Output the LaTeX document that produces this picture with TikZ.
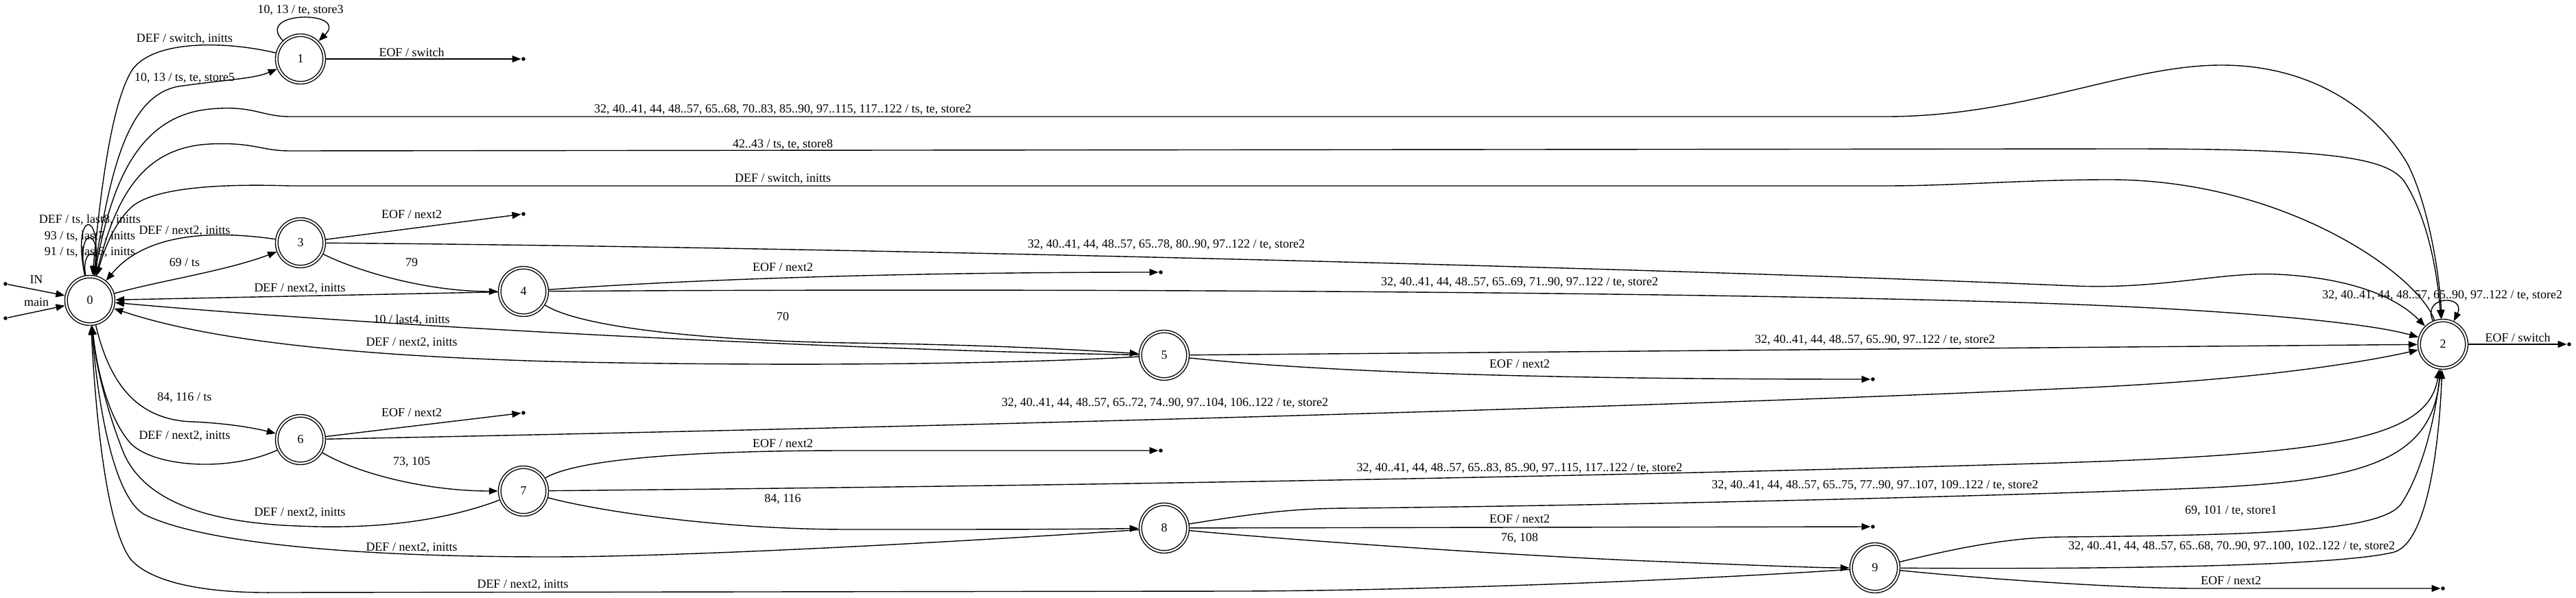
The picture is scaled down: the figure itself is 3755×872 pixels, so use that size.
\documentclass[tikz,border=0pt]{standalone}
\usepackage{fontspec}
\setmainfont{Liberation Serif}
\usetikzlibrary{arrows.meta}

\begin{document}
\begin{tikzpicture}[x=0.5pt,y=-0.5pt,line width=0.7pt,
    >={Triangle[length=6.5pt,width=5pt]},
    every node/.style={font=\fontsize{9}{10}\selectfont},
    state/.style={circle,draw,double,double distance=1.15pt,minimum size=34.65pt,inner sep=0pt,outer sep=1.3pt},
    dot/.style={circle,fill,inner sep=0pt,minimum size=2.8pt},
    lbl/.style={inner sep=0pt}]
  \useasboundingbox (0,0) rectangle (3755,872);
  \draw
    (131,438) node[state] (0){0}
    (438,86) node[state] (1){1}
    (3561,502) node[state] (2){2}
    (438,354) node[state] (3){3}
    (763,425) node[state] (4){4}
    (1697,518) node[state] (5){5}
    (438,641) node[state] (6){6}
    (763,716) node[state] (7){7}
    (1697,770) node[state] (8){8}
    (2733,828) node[state] (9){9};
  \draw
    (8,414) node[dot] (i0){}
    (8,464) node[dot] (i1){}
    (763,86) node[dot] (e1){}
    (3745,502) node[dot] (e2){}
    (763,312) node[dot] (e3){}
    (1692,397) node[dot] (e4){}
    (2730,553) node[dot] (e5){}
    (763,602) node[dot] (e6){}
    (1692,657) node[dot] (e7){}
    (2730,768) node[dot] (e8){}
    (3561,858) node[dot] (e9){};
  \draw
    (53,408) node[lbl] (lin){IN}
    (53,441) node[lbl] (lmain){main}
    (131,321) node[lbl] (l00a){DEF / ts, last8, initts}
    (131,345) node[lbl] (l00b){93 / ts, last7, initts}
    (131,368) node[lbl] (l00c){91 / ts, last6, initts}
    (438,15) node[lbl] (l11){10, 13 / te, store3}
    (269,57) node[lbl] (l10){DEF / switch, initts}
    (269,114) node[lbl] (l01){10, 13 / ts, te, store5}
    (600,76) node[lbl] (l1e){EOF / switch}
    (1141,160) node[lbl] (l02a){32, 40..41, 44, 48..57, 65..68, 70..83, 85..90, 97..115, 117..122 / ts, te, store2}
    (1141,211) node[lbl] (l02b){42..43 / ts, te, store8}
    (1141,261) node[lbl] (l20){DEF / switch, initts}
    (269,337) node[lbl] (l30){DEF / next2, initts}
    (269,383) node[lbl] (l03){69 / ts}
    (600,313) node[lbl] (l3e){EOF / next2}
    (600,383) node[lbl] (l34){79}
    (1700,357) node[lbl] (l32){32, 40..41, 44, 48..57, 65..78, 80..90, 97..122 / te, store2}
    (437,421) node[lbl] (l40){DEF / next2, initts}
    (1141,390) node[lbl] (l4e){EOF / next2}
    (2215,412) node[lbl] (l42){32, 40..41, 44, 48..57, 65..69, 71..90, 97..122 / te, store2}
    (1141,462) node[lbl] (l45){70}
    (600,467) node[lbl] (l50a){10 / last4, initts}
    (600,500) node[lbl] (l50b){DEF / next2, initts}
    (2733,496) node[lbl] (l52){32, 40..41, 44, 48..57, 65..90, 97..122 / te, store2}
    (2215,531) node[lbl] (l5e){EOF / next2}
    (3560,431) node[lbl] (l22){32, 40..41, 44, 48..57, 65..90, 97..122 / te, store2}
    (3670,492) node[lbl] (l2e){EOF / switch}
    (269,580) node[lbl] (l06){84, 116 / ts}
    (269,636) node[lbl] (l60){DEF / next2, initts}
    (600,602) node[lbl] (l6e){EOF / next2}
    (1698,588) node[lbl] (l62){32, 40..41, 44, 48..57, 65..72, 74..90, 97..104, 106..122 / te, store2}
    (600,674) node[lbl] (l67){73, 105}
    (437,748) node[lbl] (l70){DEF / next2, initts}
    (1141,647) node[lbl] (l7e){EOF / next2}
    (2215,683) node[lbl] (l72){32, 40..41, 44, 48..57, 65..83, 85..90, 97..115, 117..122 / te, store2}
    (1141,728) node[lbl] (l78){84, 116}
    (600,799) node[lbl] (l80){DEF / next2, initts}
    (2733,708) node[lbl] (l82){32, 40..41, 44, 48..57, 65..75, 77..90, 97..107, 109..122 / te, store2}
    (2215,757) node[lbl] (l8e){EOF / next2}
    (2215,785) node[lbl] (l89){76, 108}
    (762,853) node[lbl] (l90){DEF / next2, initts}
    (3252,745) node[lbl] (l92a){69, 101 / te, store1}
    (3253,797) node[lbl] (l92b){32, 40..41, 44, 48..57, 65..68, 70..90, 97..100, 102..122 / te, store2}
    (3252,847) node[lbl] (l9e){EOF / next2};
  \begin{scope}[->]
    \draw (i0) to (0);
    \draw (i1) to (0);
    \draw (0) .. controls (104,305) and (150,305) .. (0);
    \draw (0) .. controls (110,330) and (148,330) .. (0);
    \draw (0) .. controls (118,362) and (146,362) .. (0);
    \draw (0) .. controls (160,250) and (185,140) .. (260,126) .. controls (330,116) and (370,115) .. (1);
    \draw (1) .. controls (340,62) and (230,55) .. (194,100) .. controls (160,150) and (145,300) .. (0);
    \draw (1) .. controls (370,15) and (510,15) .. (1);
    \draw (1) to (e1);
    \draw (0) .. controls (158,290) and (190,170) .. (306,159) .. controls (370,153) and (380,170) .. (423,170) -- (2749,170) .. controls (2950,170) and (3100,95) .. (3238,95) .. controls (3380,95) and (3470,170) .. (3510,240) .. controls (3540,300) and (3556,400) .. (2);
    \draw (0) .. controls (165,300) and (200,215) .. (306,210) .. controls (370,207) and (380,220) .. (423,220) -- (3100,217) .. controls (3400,217) and (3480,230) .. (3505,265) .. controls (3540,320) and (3553,400) .. (2);
    \draw (2) .. controls (3525,400) and (3330,262) .. (3075,262) .. controls (2950,262) and (2850,271) .. (2749,271) -- (423,271) .. controls (330,268) and (230,272) .. (194,300) .. controls (165,325) and (150,370) .. (0);
    \draw (0) .. controls (230,410) and (330,395) .. (3);
    \draw (3) .. controls (340,340) and (220,330) .. (0);
    \draw (3) to (e3);
    \draw (3) .. controls (1200,360) and (2400,390) .. (3025,417) .. controls (3150,422) and (3240,396) .. (3320,400) .. controls (3420,405) and (3490,430) .. (2);
    \draw (3) .. controls (520,395) and (620,425) .. (4);
    \draw (4) to (0);
    \draw (4) .. controls (1000,408) and (1300,397) .. (e4);
    \draw (4) .. controls (1500,420) and (2500,425) .. (3000,443) .. controls (3250,452) and (3450,470) .. (2);
    \draw (4) .. controls (850,480) and (1050,497) .. (1236,500) .. controls (1450,503) and (1570,510) .. (5);
    \draw (5) .. controls (1300,512) and (600,480) .. (0);
    \draw (5) .. controls (1400,535) and (1000,532) .. (800,527) .. controls (500,518) and (300,495) .. (0);
    \draw (5) to (2);
    \draw (5) .. controls (1950,545) and (2300,553) .. (e5);
    \draw (2) .. controls (3530,430) and (3595,430) .. (2);
    \draw (2) to (e2);
    \draw (0) .. controls (160,560) and (200,612) .. (280,615) .. controls (330,617) and (370,624) .. (6);
    \draw (6) .. controls (330,690) and (220,680) .. (189,645) .. controls (155,605) and (140,530) .. (0);
    \draw (6) to (e6);
    \draw (6) .. controls (1500,620) and (2500,590) .. (3000,567) .. controls (3300,555) and (3460,525) .. (2);
    \draw (6) .. controls (520,690) and (620,716) .. (7);
    \draw (7) .. controls (620,770) and (500,770) .. (434,767) .. controls (300,762) and (210,730) .. (180,660) .. controls (160,610) and (140,540) .. (0);
    \draw (7) .. controls (840,670) and (1000,657) .. (1236,657) -- (e7);
    \draw (7) .. controls (1800,706) and (2500,690) .. (3000,675) .. controls (3400,662) and (3540,640) .. (2);
    \draw (7) .. controls (870,745) and (1050,772) .. (1236,772) .. controls (1450,772) and (1550,772) .. (8);
    \draw (8) .. controls (1400,790) and (1000,812) .. (800,812) .. controls (500,812) and (290,790) .. (210,750) .. controls (160,720) and (140,560) .. (0);
    \draw (8) to (e8);
    \draw (8) .. controls (1850,785) and (2200,810) .. (2400,818) .. controls (2550,824) and (2650,828) .. (9);
    \draw (8) .. controls (1850,745) and (1900,741) .. (1976,741) .. controls (2500,735) and (3000,720) .. (3200,712) .. controls (3450,702) and (3545,670) .. (2);
    \draw (9) .. controls (2400,850) and (2000,862) .. (1800,862) -- (400,864) .. controls (300,865) and (220,850) .. (190,815) .. controls (150,760) and (137,560) .. (0);
    \draw (9) .. controls (2850,800) and (2930,783) .. (3009,783) .. controls (3300,780) and (3470,775) .. (3500,735) .. controls (3530,690) and (3550,610) .. (2);
    \draw (9) .. controls (3000,830) and (3400,828) .. (3490,805) .. controls (3540,790) and (3556,640) .. (2);
    \draw (9) .. controls (2900,845) and (3100,858) .. (3200,858) -- (e9);
  \end{scope}
\end{tikzpicture}
\end{document}
